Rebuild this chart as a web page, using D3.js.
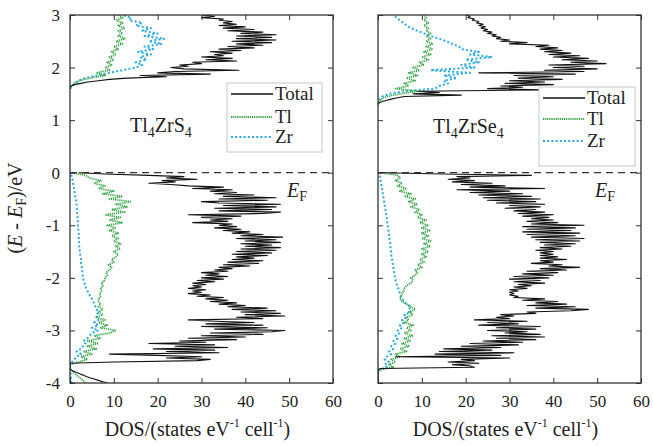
<!DOCTYPE html>
<html>
<head>
<meta charset="utf-8">
<script src="https://cdn.jsdelivr.net/npm/d3@7"></script>
<style>
  body { margin: 0; background: #fff; }
  svg text { font-family: "Liberation Serif", "Times New Roman", serif; fill: #222; }
</style>
</head>
<body>
<svg id="dos" width="653" height="446"></svg>
<script>
// energy grids (eV): total DOS sampled every 0.025, Tl / Zr every 0.05
// valence arrays run from -4.00 up to 0.00
const TOTAL_STEP = 0.025;
const PART_STEP = 0.05;
const VB_START = -4.0;

const DOS_TICKS = [0, 10, 20, 30, 40, 50, 60];
const E_TICKS = [-4, -3, -2, -1, 0, 1, 2, 3];
const SERIES = ["Total", "Tl", "Zr"];

// ---- Tl4ZrS4 ----
const S_TOTAL_VB = [
  8.6, 7.5, 6.5, 5.5, 4.5, 3.7, 3, 2.2, 1.5, 0.8,
  0.3, 0, 0, 0, 0, 0, 10, 29, 32, 22,
  30, 20, 9, 34, 22, 33, 19, 36, 24, 33,
  18, 31, 25, 38, 27, 40, 30, 44, 32, 46,
  49, 33, 45, 30, 44, 31, 42, 33, 27, 44,
  38, 49, 40, 48, 39, 47, 37, 45, 36, 40,
  34, 38, 32, 36, 31, 35, 29, 32, 27, 30,
  28, 31, 27, 30, 28, 31, 28, 33, 29, 35,
  30, 36, 31, 34, 30, 36, 33, 37, 34, 41,
  35, 43, 36, 44, 37, 42, 38, 45, 37, 46,
  38, 47, 39, 48, 40, 46, 39, 48, 40, 47,
  38, 48.5, 39, 44, 37, 41, 35, 39, 33, 38,
  34, 37, 28, 36, 32, 37, 30, 39, 27, 44,
  48, 34, 46, 33, 47, 35, 48, 34, 30, 45,
  34, 47, 35, 42, 33, 38, 32, 37, 28, 35,
  27, 23, 18, 24, 21, 29, 22, 26, 18, 8,
  2
];
const S_TL_VB = [
  3.5, 3, 2.2, 1.5, 0.8, 0.2, 0, 0, 2, 4,
  2.5, 5, 3, 6, 4, 6.5, 4, 7, 5.5, 9,
  10.5, 7, 8.5, 6.5, 8, 6, 7.5, 6.5, 7.5, 6.5,
  7, 6.5, 6.5, 7, 6.8, 7.2, 7, 7.5, 7.2, 7.8,
  8, 8.5, 8.2, 9, 9.5, 8.8, 10, 9.5, 10.5, 11,
  10, 11.5, 10.5, 11.5, 10, 11, 9.5, 11, 9, 10.5,
  8.5, 12, 9, 11.5, 8, 12.5, 9.5, 13, 10.5, 14,
  9, 12, 7.5, 10, 6.5, 8, 5.5, 7, 4.5, 3.5,
  0.5
];
const S_ZR_VB = [
  0.3, 0.3, 0.2, 0.2, 0.1, 0, 0, 0, 0.5, 1,
  1.5, 2.5, 1.5, 2.5, 3, 3.5, 3, 4, 4.5, 5,
  6.5, 5, 6.5, 5.5, 6.5, 6, 6.5, 6, 6.2, 5.8,
  5.6, 5.3, 5, 4.6, 4.3, 4, 3.7, 3.5, 3.3, 3.1,
  3, 2.9, 2.8, 2.8, 2.7, 2.6, 2.5, 2.5, 2.4, 2.3,
  2.2, 2.2, 2.1, 2.1, 2, 2, 2, 2, 1.9, 1.9,
  1.8, 1.8, 1.8, 1.7, 1.7, 1.6, 1.6, 1.5, 1.5, 1.4,
  1.3, 1.2, 1.1, 1, 0.9, 0.8, 0.7, 0.6, 0.5, 0.3,
  0.1
];
// conduction band, from 1.60 eV up to 3.00 eV
const S_CB_START = 1.6;
const S_TOTAL_CB = [
  0, 0, 0.3, 1, 2.5, 4, 6.5, 9, 13, 22,
  16, 32, 20, 24, 38.5, 26, 23, 27, 25, 30,
  28, 38, 31, 37, 30, 35, 33, 37, 32, 39,
  34, 42, 36, 44, 38, 46, 37, 47, 38, 46,
  38, 47, 39, 44, 36, 42, 35, 40, 34, 38,
  35, 37, 34, 35, 30, 33, 30
];
const S_TL_CB = [0, 0.3, 1, 2, 4.5, 8, 6, 9, 8, 9.5, 8.5, 10, 9, 10.5, 9.5, 11, 10, 12, 10.5, 12.5, 11, 12, 11, 12.5, 11, 12, 10.5, 12, 11];
const S_ZR_CB = [0, 0.5, 1.2, 2, 3.5, 6, 9, 12, 15, 16.5, 15, 17.5, 16, 18.5, 15.5, 19, 17, 21, 18, 21.5, 17, 20, 16.5, 18.5, 15, 16.5, 13.5, 14, 12];

// ---- Tl4ZrSe4 ----
const SE_TOTAL_VB = [
  0, 0, 0, 0, 0, 0, 0, 0, 0, 0,
  0, 0.5, 22, 21, 17, 23, 16, 22, 19, 30,
  4, 28, 13, 31, 14, 26, 15, 28, 19, 32,
  21, 33, 24, 36, 27, 38, 26, 37, 29, 34,
  25, 36, 27, 37, 23, 32, 25, 34, 22, 30,
  27, 31, 28, 36, 34, 44, 48, 36, 45, 34,
  43, 36, 41, 33, 38, 31, 32, 30, 31, 30,
  32, 30, 34, 31, 35, 32, 38, 31, 37, 30,
  39, 31, 40, 33, 41, 34, 43, 37, 46, 39,
  42, 35, 40, 37, 43, 37, 41, 37, 40, 37,
  40, 36, 42, 37, 44, 38, 45, 37, 46, 36,
  47, 35, 45, 34, 46, 33, 44, 34, 45, 33,
  47, 35, 41, 34, 40, 35, 39, 33, 40, 32,
  38, 31, 36, 29, 37, 30, 38, 27, 36, 25,
  37, 24, 35, 23, 33, 21, 30, 18, 38, 21,
  29, 19, 26, 17, 22, 16, 21, 18, 35, 15,
  1
];
const SE_TL_VB = [
  0, 0, 0, 0, 0, 0.5, 3.5, 2.5, 4, 3,
  5, 4, 6.5, 5, 7, 5.5, 7.5, 6, 8, 6,
  7.5, 6.5, 8, 6, 7, 6.5, 8, 7, 8.5, 7.5,
  6.5, 5.5, 5, 5.3, 5.5, 5.8, 6, 6.5, 7.5, 8,
  7.5, 8.5, 9, 8.5, 10, 9, 10.5, 9.5, 11, 10,
  11.5, 10, 12, 10.5, 12, 10, 11.5, 10, 12, 10,
  11.5, 9.5, 11, 9, 10, 8.5, 9.5, 7.5, 9, 7,
  8.5, 6, 7.5, 5, 6.5, 4.5, 5.5, 4, 5, 4.5,
  1
];
const SE_ZR_VB = [
  0, 0, 0, 0, 0, 0.3, 2, 1.5, 2.5, 1.5,
  2, 3, 2.5, 3.5, 3, 4, 3.5, 4.5, 4, 5,
  4.5, 5.5, 5, 6, 5.5, 6.5, 6, 7.5, 7, 7.5,
  6.5, 6, 5.5, 5.2, 5, 4.8, 4.6, 4.4, 4.2, 4,
  3.9, 3.8, 3.7, 3.6, 3.5, 3.4, 3.3, 3.2, 3.1, 3,
  3, 2.9, 2.8, 2.8, 2.7, 2.6, 2.5, 2.5, 2.4, 2.3,
  2.2, 2.1, 2, 2, 1.9, 1.8, 1.7, 1.6, 1.5, 1.4,
  1.3, 1.2, 1.1, 1, 0.9, 0.8, 0.7, 0.6, 0.5, 0.4,
  0.1
];
// conduction band, from 1.30 eV up to 3.00 eV
const SE_CB_START = 1.3;
const SE_TOTAL_CB = [
  0, 0.2, 0.8, 1.8, 3, 4.5, 6, 19, 8, 14,
  9, 37, 25, 33, 28, 40, 29, 38, 30, 42,
  32, 40, 31, 45, 23, 47, 38, 50, 40, 47,
  39, 52, 44, 50, 42, 48, 40, 46, 39, 44,
  38, 42, 37, 41, 36, 39, 30, 34, 28, 30,
  27, 28, 26, 27, 25, 26, 24, 25, 23.5, 24.5,
  23, 24, 22.5, 23, 21.5, 22, 20.5, 21, 20
];
const SE_TL_CB = [0, 0.2, 0.8, 2, 5, 9, 4, 7, 6, 8.5, 6.5, 9, 7, 9.5, 8, 10.5, 9.5, 11.5, 10, 12, 10.5, 12.5, 11, 12.5, 11, 12, 11, 12, 11, 11.5, 10.5, 11.5, 10.5, 11, 10.5];
const SE_ZR_CB = [0, 0.2, 0.5, 1, 2.5, 6, 13, 14, 16, 15, 18, 15, 21, 12, 22, 19, 23, 20, 26, 21, 23, 19, 18.5, 17, 15.5, 14, 12, 10.5, 9, 7.5, 6.5, 5.8, 5, 4.2, 3.6];

const styles = {
  Total: { color: "#111", width: 1.1, dash: null, step: TOTAL_STEP },
  Tl: { color: "#36a546", width: 1.8, dash: "1.2,0.9", step: PART_STEP },
  Zr: { color: "#2aaae2", width: 2, dash: "2,2.2", step: PART_STEP }
};

const svg = d3.select("#dos");
const plotTop = 15, plotBottom = 383, panelW = 263;
const serif = '"Liberation Serif", "Times New Roman", serif';

const y = d3.scaleLinear([-4, 3], [plotBottom, plotTop]);
const x = d3.scaleLinear([0, 60], [0, panelW]);

function toPoints(values, start, step) {
  return values.map((v, i) => [start + i * step, v]);
}

const line = d3.line().x((d) => x(d[1])).y((d) => y(d[0]));

const panels = [
  {
    x0: 70, formula: [["Tl", 0], ["4", 1], ["ZrS", 0], ["4", 1]], fx: 60, fy: 132,
    cbStart: S_CB_START,
    data: { Total: [S_TOTAL_VB, S_TOTAL_CB], Tl: [S_TL_VB, S_TL_CB], Zr: [S_ZR_VB, S_ZR_CB] },
    legend: { x: 157, y: 83, w: 95, h: 69, rows: [94, 117, 137] },
    showYLabels: true
  },
  {
    x0: 378, formula: [["Tl", 0], ["4", 1], ["ZrSe", 0], ["4", 1]], fx: 55, fy: 133,
    cbStart: SE_CB_START,
    data: { Total: [SE_TOTAL_VB, SE_TOTAL_CB], Tl: [SE_TL_VB, SE_TL_CB], Zr: [SE_ZR_VB, SE_ZR_CB] },
    legend: { x: 161, y: 87, w: 96, h: 79, rows: [98, 119, 141] },
    showYLabels: false
  }
];

panels.forEach((p, pi) => {
  const g = svg.append("g").attr("transform", `translate(${p.x0},0)`);

  g.append("clipPath").attr("id", "clip" + pi)
    .append("rect").attr("x", 0).attr("y", plotTop).attr("width", panelW).attr("height", plotBottom - plotTop);

  const plot = g.append("g").attr("clip-path", `url(#clip${pi})`);

  // draw Zr, Tl first, total on top
  ["Zr", "Tl", "Total"].forEach((name) => {
    const s = styles[name];
    const [vb, cb] = p.data[name];
    plot.append("path")
      .attr("d", line(toPoints(vb, VB_START, s.step)) + line(toPoints(cb, p.cbStart, s.step)))
      .attr("fill", "none")
      .attr("stroke", s.color)
      .attr("stroke-width", s.width)
      .attr("stroke-dasharray", s.dash)
      .attr("stroke-linejoin", "round");
  });

  // Fermi level
  g.append("line")
    .attr("x1", x(0)).attr("x2", x(60))
    .attr("y1", y(0)).attr("y2", y(0))
    .attr("stroke", "#333").attr("stroke-width", 1.2)
    .attr("stroke-dasharray", "7,5");

  // axes with inward ticks on all four sides
  const fmt = (d) => String(d);
  g.append("g").attr("transform", `translate(0,${plotBottom})`)
    .call(d3.axisBottom(x).tickValues(DOS_TICKS).tickFormat(fmt).tickSizeInner(-5).tickSizeOuter(0).tickPadding(12));
  g.append("g").attr("transform", `translate(0,${plotTop})`)
    .call(d3.axisTop(x).tickValues(DOS_TICKS).tickFormat("").tickSizeInner(-5).tickSizeOuter(0));
  g.append("g")
    .call(d3.axisLeft(y).tickValues(E_TICKS).tickFormat(p.showYLabels ? fmt : "").tickSizeInner(-5).tickSizeOuter(0).tickPadding(10));
  g.append("g").attr("transform", `translate(${panelW},0)`)
    .call(d3.axisRight(y).tickValues(E_TICKS).tickFormat("").tickSizeInner(-5).tickSizeOuter(0));

  g.selectAll(".domain").remove();
  g.selectAll(".tick line").attr("stroke", "#333").attr("stroke-width", 1);
  g.selectAll(".tick text")
    .attr("font-size", 17)
    .attr("fill", "#222")
    .attr("font-family", serif);

  g.append("rect")
    .attr("x", 0).attr("y", plotTop).attr("width", panelW).attr("height", plotBottom - plotTop)
    .attr("fill", "none").attr("stroke", "#333").attr("stroke-width", 1.3);

  // compound label
  const ft = g.append("text").attr("x", p.fx).attr("y", p.fy).attr("font-size", 20);
  p.formula.forEach(([t, sub], i) => {
    ft.append("tspan")
      .attr("font-size", sub ? 14 : 20)
      .attr("dy", sub ? 5 : (i > 0 ? -5 : 0))
      .text(t);
  });

  // E_F
  const ef = g.append("text").attr("x", 217).attr("y", 197).attr("font-size", 20);
  ef.append("tspan").attr("font-style", "italic").text("E");
  ef.append("tspan").attr("font-size", 14).attr("dy", 4).text("F");

  // legend
  const L = p.legend;
  const lg = g.append("g");
  lg.append("rect")
    .attr("x", L.x).attr("y", L.y).attr("width", L.w).attr("height", L.h)
    .attr("fill", "#fff").attr("stroke", "#c8c8c8").attr("stroke-width", 1);
  SERIES.forEach((name, i) => {
    const s = styles[name];
    lg.append("line")
      .attr("x1", L.x + 4).attr("x2", L.x + 46)
      .attr("y1", L.rows[i]).attr("y2", L.rows[i])
      .attr("stroke", s.color).attr("stroke-width", name === "Total" ? 1.4 : s.width)
      .attr("stroke-dasharray", s.dash);
    lg.append("text")
      .attr("x", L.x + 48).attr("y", L.rows[i] + 6)
      .attr("font-size", 19)
      .text(name);
  });

  // x title
  const xt = g.append("text")
    .attr("x", panelW / 2 - 4).attr("y", 436)
    .attr("text-anchor", "middle").attr("font-size", 20);
  xt.append("tspan").text("DOS/(states eV");
  xt.append("tspan").attr("font-size", 12).attr("dy", -9).text("-1");
  xt.append("tspan").attr("dy", 9).text(" cell");
  xt.append("tspan").attr("font-size", 12).attr("dy", -9).text("-1");
  xt.append("tspan").attr("dy", 9).text(")");
});

// y title
const yt = svg.append("text")
  .attr("transform", "translate(22,208) rotate(-90)")
  .attr("text-anchor", "middle").attr("font-size", 20);
yt.append("tspan").text("(");
yt.append("tspan").attr("font-style", "italic").text("E");
yt.append("tspan").text(" - ");
yt.append("tspan").attr("font-style", "italic").text("E");
yt.append("tspan").attr("font-size", 14).attr("dy", 4).text("F");
yt.append("tspan").attr("dy", -4).text(")/eV");
</script>
</body>
</html>
